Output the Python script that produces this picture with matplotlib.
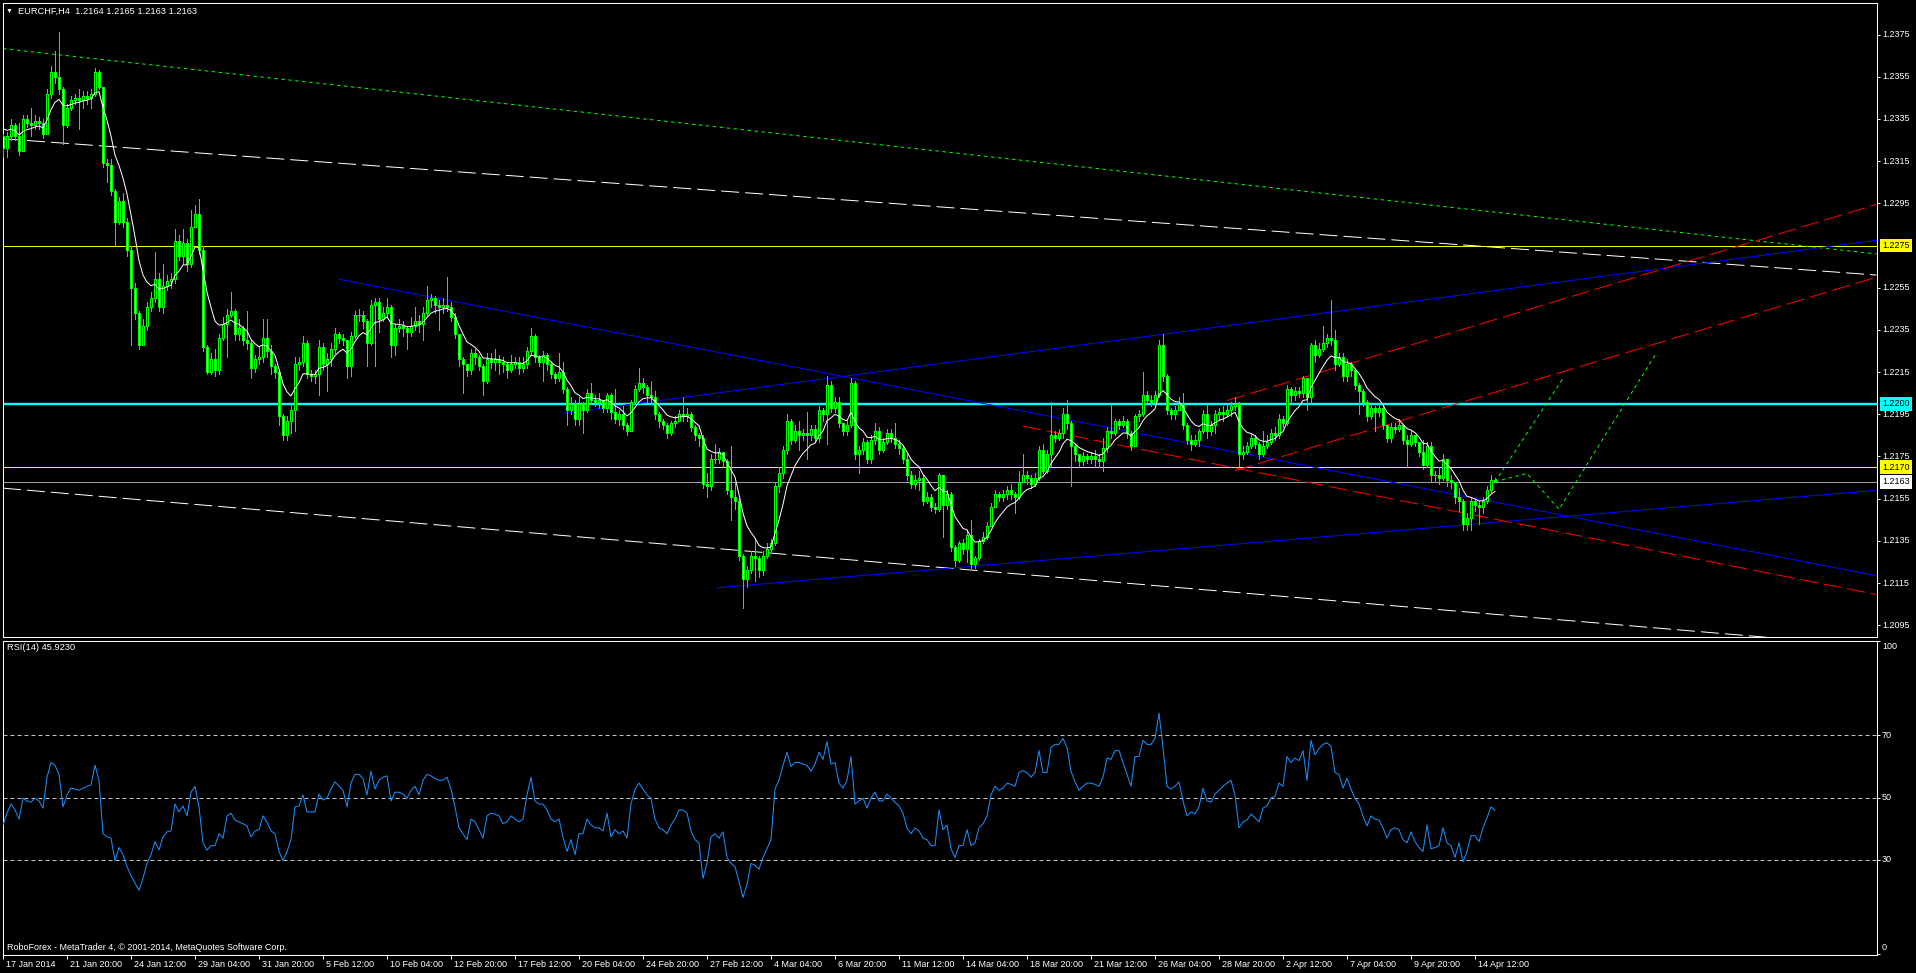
import numpy as np
import matplotlib
matplotlib.use('Agg')
import matplotlib.pyplot as plt
from matplotlib import transforms

plt.rcParams['font.family'] = ['Liberation Sans', 'DejaVu Sans']
plt.rcParams['lines.scale_dashes'] = False

# EURCHF H4, 17 Jan - 14 Apr 2014. Prices kept as pips above 1.2000
BASE = 1.2000
first_open_pips = 327
close_pips = [
    321, 327, 332, 327, 320, 335, 333, 332, 334, 333, 328, 347, 357, 355, 349, 332,
    340, 344, 345, 344, 346, 345, 347, 357, 350, 314, 313, 301, 286, 296, 286, 273,
    255, 243, 228, 237, 246, 250, 259, 246, 256, 258, 259, 277, 270, 276, 266, 284,
    290, 273, 227, 215, 221, 216, 231, 238, 242, 244, 233, 236, 230, 229, 217, 221,
    222, 231, 225, 218, 215, 194, 185, 192, 197, 219, 220, 229, 214, 213, 214, 227,
    219, 221, 226, 233, 231, 230, 218, 232, 242, 242, 239, 229, 247, 248, 240, 243,
    246, 228, 236, 237, 236, 234, 237, 239, 238, 243, 249, 250, 247, 246, 247, 246,
    241, 233, 221, 219, 216, 224, 222, 218, 211, 221, 220, 221, 220, 219, 216, 219,
    220, 217, 219, 225, 232, 222, 220, 223, 219, 214, 212, 215, 207, 197, 200, 193,
    200, 197, 205, 202, 201, 202, 198, 204, 196, 193, 195, 190, 187, 201, 207, 210,
    208, 204, 203, 195, 192, 190, 186, 191, 192, 195, 194, 195, 189, 185, 184, 162,
    161, 174, 174, 177, 173, 159, 156, 154, 128, 117, 121, 128, 127, 121, 128, 131,
    134, 161, 167, 178, 192, 183, 187, 185, 186, 185, 188, 184, 197, 195, 209, 198,
    201, 191, 187, 190, 210, 176, 178, 182, 174, 183, 187, 178, 182, 186, 184, 181,
    179, 174, 166, 162, 164, 165, 154, 156, 151, 150, 166, 152, 157, 132, 126, 134,
    131, 138, 124, 127, 135, 137, 142, 151, 157, 156, 157, 159, 157, 156, 163, 166,
    165, 162, 165, 178, 168, 176, 185, 184, 186, 195, 191, 180, 176, 173, 175, 174,
    175, 174, 173, 179, 187, 186, 192, 190, 192, 186, 180, 194, 195, 204, 202, 201,
    204, 228, 213, 197, 195, 197, 200, 190, 183, 181, 183, 187, 195, 187, 190, 195,
    196, 195, 197, 199, 200, 176, 177, 180, 184, 181, 176, 180, 182, 186, 185, 193,
    191, 207, 204, 206, 205, 212, 203, 228, 223, 226, 229, 231, 230, 219, 222, 213,
    219, 216, 209, 206, 201, 194, 198, 196, 198, 190, 184, 189, 188, 190, 183, 181,
    185, 182, 177, 171, 180, 166, 166, 165, 174, 164, 163, 156, 154, 143, 146, 154,
    152, 151, 154, 159, 164, 163,
]
high_pips = [
    328, 329, 335, 333, 333, 337, 337, 340, 337, 336, 335, 349, 360, 367, 376, 350,
    342, 346, 347, 349, 348, 348, 349, 359, 358, 350, 316, 316, 302, 298, 300, 288,
    275, 257, 244, 240, 248, 253, 272, 262, 266, 261, 262, 283, 280, 283, 278, 292,
    294, 297, 275, 228, 224, 226, 233, 241, 245, 253, 245, 240, 237, 244, 230, 223,
    227, 240, 240, 228, 219, 215, 195, 194, 200, 222, 222, 232, 230, 216, 216, 230,
    229, 224, 229, 236, 234, 233, 230, 234, 244, 245, 244, 240, 249, 250, 250, 246,
    250, 247, 238, 240, 239, 237, 241, 246, 242, 246, 256, 252, 251, 249, 250, 260,
    248, 243, 233, 222, 219, 226, 226, 223, 219, 224, 224, 226, 223, 222, 220, 223,
    222, 222, 222, 227, 236, 233, 223, 225, 224, 220, 215, 224, 220, 208, 203, 202,
    203, 201, 207, 210, 204, 205, 202, 205, 205, 207, 197, 199, 191, 202, 209, 217,
    212, 209, 211, 206, 196, 193, 191, 192, 194, 197, 203, 198, 196, 190, 186, 185,
    167, 176, 181, 179, 177, 174, 180, 163, 155, 129, 123, 130, 136, 128, 130, 134,
    136, 163, 170, 180, 195, 193, 190, 192, 188, 196, 190, 190, 199, 198, 213, 211,
    203, 203, 191, 192, 212, 211, 180, 184, 183, 185, 191, 189, 184, 188, 188, 191,
    183, 180, 176, 168, 166, 168, 166, 158, 157, 153, 167, 166, 159, 158, 133, 135,
    136, 140, 145, 128, 136, 139, 144, 153, 159, 158, 159, 161, 162, 158, 168, 176,
    168, 166, 167, 180, 181, 178, 201, 187, 188, 198, 202, 192, 181, 176, 177, 176,
    177, 178, 176, 184, 189, 200, 193, 193, 194, 193, 187, 195, 197, 215, 206, 204,
    206, 230, 233, 214, 198, 199, 203, 205, 191, 185, 185, 188, 197, 200, 192, 197,
    198, 199, 200, 201, 203, 201, 180, 182, 186, 185, 182, 187, 185, 188, 189, 195,
    194, 209, 208, 208, 208, 213, 212, 229, 230, 229, 237, 233, 249, 235, 224, 224,
    221, 220, 216, 210, 207, 202, 200, 199, 200, 199, 190, 191, 191, 193, 190, 185,
    187, 185, 182, 183, 182, 182, 168, 170, 176, 174, 166, 163, 160, 155, 148, 156,
    155, 154, 156, 161, 166, 165,
]
low_pips = [
    317, 317, 325, 325, 318, 320, 331, 327, 330, 330, 326, 328, 345, 352, 347, 323,
    331, 339, 342, 330, 340, 342, 340, 346, 349, 312, 305, 299, 275, 285, 284, 270,
    228, 240, 226, 228, 235, 244, 248, 244, 243, 254, 255, 257, 268, 266, 263, 265,
    284, 271, 225, 214, 214, 213, 214, 230, 222, 241, 230, 230, 228, 226, 212, 215,
    219, 220, 222, 214, 212, 190, 183, 183, 186, 187, 216, 218, 212, 211, 210, 204,
    216, 206, 218, 224, 229, 228, 212, 213, 231, 239, 236, 218, 228, 218, 234, 239,
    241, 222, 223, 234, 232, 226, 232, 235, 234, 230, 242, 246, 243, 235, 243, 244,
    239, 231, 218, 205, 213, 214, 219, 216, 204, 210, 217, 216, 214, 215, 212, 215,
    217, 214, 215, 217, 223, 220, 218, 211, 216, 212, 210, 211, 205, 190, 195, 190,
    190, 186, 196, 200, 199, 198, 196, 196, 193, 191, 190, 188, 185, 187, 200, 206,
    205, 201, 200, 193, 189, 188, 184, 185, 189, 192, 192, 192, 187, 183, 180, 160,
    156, 159, 172, 172, 170, 157, 145, 150, 126, 103, 113, 120, 116, 118, 119, 127,
    130, 133, 158, 165, 176, 181, 182, 178, 183, 174, 183, 182, 182, 192, 181, 196,
    196, 189, 185, 185, 189, 174, 167, 176, 172, 172, 181, 176, 177, 181, 182, 179,
    176, 172, 164, 160, 160, 159, 152, 153, 149, 148, 149, 137, 150, 130, 123, 125,
    129, 125, 122, 122, 126, 134, 136, 142, 151, 154, 154, 155, 155, 148, 155, 163,
    162, 160, 161, 164, 167, 167, 170, 182, 183, 184, 188, 161, 173, 170, 171, 172,
    172, 170, 170, 168, 177, 184, 185, 188, 189, 184, 178, 180, 192, 194, 200, 199,
    200, 203, 211, 195, 193, 193, 197, 188, 181, 178, 180, 180, 186, 184, 185, 186,
    193, 192, 194, 194, 197, 170, 174, 176, 179, 179, 174, 175, 179, 181, 183, 184,
    189, 190, 201, 202, 203, 203, 197, 200, 220, 222, 225, 227, 228, 216, 218, 211,
    211, 213, 207, 195, 199, 192, 193, 187, 194, 188, 182, 182, 186, 187, 181, 170,
    180, 180, 175, 169, 170, 163, 163, 162, 164, 161, 160, 153, 149, 140, 140, 140,
    149, 143, 148, 153, 158, 163,
]
rsi14 = [
    41.2, 45.0, 47.9, 46.0, 43.1, 49.8, 48.9, 48.5, 49.8, 48.9, 46.6, 56.5, 61.2, 60.3, 57.4, 47.0,
    50.8, 53.0, 52.7, 52.3, 53.0, 53.6, 54.0, 60.3, 55.5, 38.4, 37.4, 37.0, 29.8, 34.0, 31.7, 27.9,
    25.0, 22.6, 20.3, 24.1, 28.9, 31.7, 35.9, 33.2, 37.4, 39.0, 39.3, 47.9, 45.4, 47.3, 44.1, 51.7,
    53.6, 47.0, 35.5, 33.2, 34.6, 34.6, 38.4, 37.0, 44.1, 45.0, 42.8, 42.2, 41.6, 40.9, 37.4, 39.3,
    39.7, 44.1, 42.2, 39.3, 38.4, 32.7, 29.8, 32.7, 36.5, 47.0, 47.3, 50.8, 45.4, 45.4, 45.4, 51.1,
    49.2, 49.8, 52.7, 55.0, 53.6, 52.3, 47.0, 54.6, 57.4, 57.4, 56.1, 50.8, 58.4, 52.7, 55.5, 56.5,
    56.9, 48.9, 51.7, 51.7, 51.1, 49.8, 52.3, 53.6, 50.8, 55.5, 57.4, 56.9, 56.1, 55.5, 55.5, 56.5,
    52.7, 47.0, 40.3, 38.4, 36.5, 43.1, 42.2, 39.7, 37.0, 44.1, 45.0, 44.7, 44.1, 41.6, 42.2, 44.1,
    43.1, 42.2, 43.1, 50.8, 56.5, 48.9, 47.9, 47.9, 46.0, 43.1, 42.2, 43.1, 37.4, 32.7, 36.5, 31.7,
    38.4, 38.4, 43.1, 41.2, 40.3, 40.3, 39.3, 45.0, 37.4, 39.7, 38.4, 39.3, 37.0, 47.9, 52.7, 54.6,
    52.7, 50.8, 49.8, 43.1, 40.3, 39.7, 38.4, 41.2, 43.1, 46.0, 46.0, 45.0, 39.3, 36.5, 35.5, 24.1,
    28.9, 37.4, 38.4, 37.0, 39.0, 30.8, 28.9, 27.9, 23.1, 18.0, 22.2, 28.9, 28.3, 27.0, 30.8, 33.6,
    36.5, 52.7, 55.5, 60.3, 64.5, 59.9, 61.2, 61.2, 60.7, 60.3, 58.4, 60.7, 64.5, 62.2, 67.9, 60.7,
    61.2, 54.6, 53.0, 55.5, 63.1, 47.9, 48.9, 49.8, 46.6, 49.8, 51.7, 48.9, 48.9, 51.1, 49.8, 48.5,
    47.3, 45.0, 40.3, 38.4, 40.3, 39.3, 37.0, 36.5, 34.6, 34.6, 46.0, 39.7, 41.2, 33.6, 30.8, 34.6,
    34.6, 39.7, 34.6, 35.5, 40.3, 41.6, 44.1, 50.8, 53.6, 52.3, 53.0, 54.6, 54.2, 53.6, 58.0, 58.6,
    57.9, 56.5, 58.0, 65.0, 58.0, 58.0, 66.0, 67.0, 67.0, 68.9, 66.0, 58.4, 55.0, 52.3, 53.6, 54.6,
    54.6, 54.2, 53.6, 56.5, 62.6, 62.2, 65.0, 65.0, 61.2, 57.4, 53.6, 63.1, 63.1, 68.3, 67.0, 67.0,
    68.9, 77.0, 66.0, 53.6, 52.7, 53.6, 55.0, 48.9, 44.1, 45.4, 44.7, 47.0, 53.0, 48.9, 48.5, 51.1,
    52.3, 53.6, 54.6, 55.5, 50.8, 40.3, 42.2, 42.8, 44.7, 43.5, 42.2, 46.6, 47.3, 49.8, 50.4, 54.6,
    53.6, 63.1, 61.2, 62.6, 61.8, 65.0, 55.5, 68.3, 63.7, 65.6, 67.0, 67.5, 66.4, 58.0, 57.4, 53.0,
    56.1, 52.7, 49.8, 47.9, 44.1, 40.9, 44.1, 43.1, 42.8, 40.3, 37.0, 39.7, 40.3, 39.7, 36.5, 35.5,
    39.0, 35.9, 34.0, 32.7, 41.2, 33.6, 34.0, 34.6, 40.3, 35.5, 34.6, 30.8, 35.5, 29.4, 32.7, 37.8,
    37.8, 35.9, 40.3, 43.5, 47.0, 45.9,
]
ma_seed = 1.2333   # moving average value just before the first bar
ma_period = 8

time_labels = ['17 Jan 2014', '21 Jan 20:00', '24 Jan 12:00', '29 Jan 04:00', '31 Jan 20:00',
               '5 Feb 12:00', '10 Feb 04:00', '12 Feb 20:00', '17 Feb 12:00', '20 Feb 04:00',
               '24 Feb 20:00', '27 Feb 12:00', '4 Mar 04:00', '6 Mar 20:00', '11 Mar 12:00',
               '14 Mar 04:00', '18 Mar 20:00', '21 Mar 12:00', '26 Mar 04:00', '28 Mar 20:00',
               '2 Apr 12:00', '7 Apr 04:00', '9 Apr 20:00', '14 Apr 12:00']
bars_per_label = 16

price_ticks = [1.2375, 1.2355, 1.2335, 1.2315, 1.2295, 1.2255, 1.2235, 1.2215,
               1.2195, 1.2175, 1.2155, 1.2135, 1.2115, 1.2095]
rsi_levels = [70, 50, 30]

# horizontal levels and their price-scale tags
hlines = [(1.2275, '#ffff00'), (1.2200, '#00ffff'), (1.2170, '#ffff00'), (1.2163, '#a0a0a0')]
tag_colors = ['#ffff00', '#00ffff', '#ffff00', '#ffffff']

# trend lines: (bar0, price0, bar1, price1)
green_line = (0, 1.23683, 468.4, 1.22710)
white_top = (0, 1.23256, 468.4, 1.22610)
white_bottom = (0, 1.21600, 468.4, 1.20849)
blue_down = (84, 1.22590, 468.4, 1.21185)
blue_up_top = (140, 1.21955, 468.4, 1.22775)
blue_up_bottom = (178.5, 1.21128, 468.4, 1.21590)
red_down = (255, 1.21894, 468.4, 1.21096)
red_up_top = (306, 1.22015, 468.4, 1.22945)
red_up_bottom = (308, 1.21683, 468.4, 1.22600)

# projected path (green dotted)
path_a_bars = [373, 390]
path_a_price = [1.2163, 1.2212]
path_b_bars = [373, 381, 389, 413]
path_b_price = [1.2163, 1.2167, 1.2150, 1.2223]

close = BASE + np.array(close_pips) / 1e4
high = BASE + np.array(high_pips) / 1e4
low = BASE + np.array(low_pips) / 1e4
opn = np.concatenate([[BASE + first_open_pips / 1e4], close[:-1]])
x = np.arange(len(close))

ma = []
prev = ma_seed
k = 2.0 / (ma_period + 1)
for c in close:
    prev = prev + k * (c - prev)
    ma.append(prev)

W, H = 1916, 973
PX = 0.72  # one pixel in points at dpi 100
FS = 6.5
fig = plt.figure(figsize=(W / 100, H / 100), dpi=100, facecolor='black')


def rect(x0, y0, x1, y1):
    return [x0 / W, 1 - y1 / H, (x1 - x0) / W, (y1 - y0) / H]


ax = fig.add_axes(rect(2.5, 2.5, 1876.5, 636.5), facecolor='black')
ax2 = fig.add_axes(rect(2.5, 640.5, 1876.5, 954.5), facecolor='black')

for a in (ax, ax2):
    a.set_xlim(-0.125, 468.375)
    for s in a.spines.values():
        s.set_color('white')
        s.set_linewidth(PX)
    a.yaxis.tick_right()
    a.tick_params(axis='y', colors='white', length=3 * PX, width=PX,
                  labelright=False, labelleft=False)

ax.set_ylim(1.208969, 1.239017)
ax2.set_ylim(-0.24, 100.24)


def scale_label(a, val, text, dy=0, **kw):
    # text on the price scale, just right of the chart border
    return a.annotate(text, xy=(1, val), xycoords=('axes fraction', 'data'),
                      xytext=(5.5, dy), textcoords='offset pixels', ha='left', va='center',
                      fontsize=FS, annotation_clip=False, **kw)


# horizontal levels
for (lvl, col) in hlines:
    ax.axhline(lvl, color=col, lw=(2.4 if col == '#00ffff' else 1) * PX, zorder=1)

dash = (18 * PX, 6 * PX)
dot = (3.5 * PX, 3.5 * PX)


def tline(spec, color, dashes=None):
    kw = dict(color=color, lw=PX, zorder=2)
    if dashes:
        kw['dashes'] = dashes
    ax.plot([spec[0], spec[2]], [spec[1], spec[3]], **kw)


tline(green_line, '#00ff00', dot)
tline(white_top, 'white', dash)
tline(white_bottom, 'white', dash)
tline(blue_down, '#0000ff')
tline(blue_up_top, '#0000ff')
tline(blue_up_bottom, '#0000ff')
tline(red_down, '#ff0000', dash)
tline(red_up_top, '#ff0000', dash)
tline(red_up_bottom, '#ff0000', dash)
ax.plot(path_a_bars, path_a_price, color='#00ff00', lw=PX, dashes=dot, zorder=2)
ax.plot(path_b_bars, path_b_price, color='#00ff00', lw=PX, dashes=dot, zorder=2)

# candles
up = close >= opn
lo_b = np.minimum(opn, close)
hi_b = np.maximum(opn, close)
ax.vlines(x, low, high, color='#00ff00', lw=PX, zorder=3, antialiased=False)
ax.bar(x, hi_b - lo_b, bottom=lo_b, width=0.5, color=np.where(up, 'black', 'white'),
       edgecolor='#00ff00', linewidth=PX, zorder=4, antialiased=False)
ax.plot(x, ma, color='white', lw=PX, zorder=5)

ax.set_xticks([])
ax.set_yticks(price_ticks)
for p in price_ticks:
    scale_label(ax, p, '%.4f' % p, color='white')

for (lvl, _), fc in zip(hlines, tag_colors):
    scale_label(ax, lvl, '%.4f' % lvl, color='black',
                bbox=dict(boxstyle='square,pad=0.25', fc=fc, ec='none'))

# RSI panel
for lv in rsi_levels:
    ax2.axhline(lv, color='#c0c0c0', lw=PX, dashes=(4 * PX, 3 * PX), zorder=1)
ax2.plot(x, rsi14, color='#1e90ff', lw=PX, zorder=3)
ax2.set_yticks([100] + rsi_levels + [0])
scale_label(ax2, 100, '100', dy=-5, color='white')
for lv in rsi_levels:
    scale_label(ax2, lv, str(lv), color='white')
scale_label(ax2, 0, '0', dy=6, color='white')

tick_bars = [i * bars_per_label for i in range(len(time_labels))]
ax2.set_xticks(tick_bars)
ax2.set_xticklabels(time_labels)
ax2.tick_params(axis='x', colors='white', labelsize=FS, length=4 * PX, width=PX, pad=1)
shift = transforms.ScaledTranslation(3 / 100, 0, fig.dpi_scale_trans)
for lab in ax2.get_xticklabels():
    lab.set_horizontalalignment('left')
    lab.set_transform(lab.get_transform() + shift)

# texts
fig.text(9 / W, 1 - 11 / H, '\u25bc', color='white', fontsize=5, ha='center', va='center')
fig.text(18 / W, 1 - 11 / H, 'EURCHF,H4  1.2164 1.2165 1.2163 1.2163', color='white',
         fontsize=6.7, ha='left', va='center')
fig.text(7 / W, 1 - 648 / H, 'RSI(14) 45.9230', color='white', fontsize=6.7,
         ha='left', va='center')
fig.text(7 / W, 1 - 947 / H, 'RoboForex - MetaTrader 4, \u00a9 2001-2014, MetaQuotes Software Corp.',
         color='white', fontsize=FS, ha='left', va='center')

fig.savefig('out.png', dpi=100, facecolor='black')
